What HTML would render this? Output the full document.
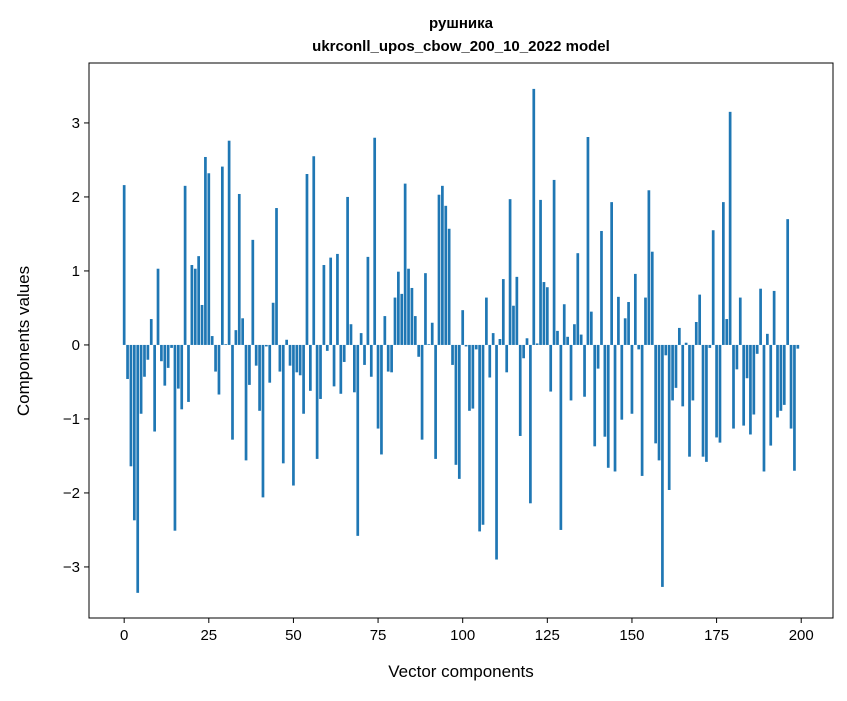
<!DOCTYPE html>
<html><head><meta charset="utf-8"><style>
body{margin:0;background:#fff;}
svg text{font-family:"Liberation Sans","DejaVu Sans",sans-serif;fill:#000;}
</style></head><body>
<svg id="chart" width="847" height="696" viewBox="0 0 847 696" xmlns="http://www.w3.org/2000/svg">
<rect width="847" height="696" fill="#fff"/>
<text x="461" y="28" text-anchor="middle" font-size="15" font-weight="bold">рушника</text>
<text x="461" y="51" text-anchor="middle" font-size="15" font-weight="bold">ukrconll_upos_cbow_200_10_2022 model</text>
<g id="bars"></g>
<g id="xticks"></g>
<g id="yticks"></g>
<rect x="89" y="63" width="744" height="555" fill="none" stroke="#000" stroke-width="1"/>
<text x="461" y="677" text-anchor="middle" font-size="17">Vector components</text>
<text transform="translate(29,341) rotate(-90)" text-anchor="middle" font-size="17">Components values</text>
</svg>
<script>
const values = [2.16,-0.46,-1.64,-2.37,-3.35,-0.93,-0.43,-0.2,0.35,-1.17,1.03,-0.22,-0.55,-0.31,-0.04,-2.51,-0.59,-0.87,2.15,-0.77,
1.08,1.03,1.2,0.54,2.54,2.32,0.12,-0.36,-0.67,2.41,0.01,2.76,-1.28,0.2,2.04,0.36,-1.56,-0.54,1.42,-0.28,
-0.89,-2.06,-0.02,-0.51,0.57,1.85,-0.36,-1.6,0.07,-0.28,-1.9,-0.37,-0.41,-0.93,2.31,-0.62,2.55,-1.54,-0.73,1.08,
-0.08,1.18,-0.56,1.23,-0.66,-0.23,2.0,0.28,-0.64,-2.58,0.16,-0.27,1.19,-0.43,2.8,-1.13,-1.48,0.39,-0.36,-0.37,
0.64,0.99,0.69,2.18,1.03,0.77,0.39,-0.16,-1.28,0.97,0.01,0.3,-1.54,2.03,2.15,1.88,1.57,-0.27,-1.62,-1.81,
0.47,-0.02,-0.89,-0.86,-0.06,-2.52,-2.43,0.64,-0.44,0.16,-2.9,0.08,0.89,-0.37,1.97,0.53,0.92,-1.23,-0.18,0.09,
-2.14,3.46,0.02,1.96,0.85,0.78,-0.63,2.23,0.19,-2.5,0.55,0.11,-0.75,0.28,1.24,0.14,-0.7,2.81,0.45,-1.37,
-0.32,1.54,-1.24,-1.66,1.93,-1.71,0.65,-1.01,0.36,0.58,-0.93,0.96,-0.06,-1.77,0.64,2.09,1.26,-1.33,-1.56,-3.27,
-0.14,-1.96,-0.75,-0.58,0.23,-0.83,0.03,-1.51,-0.75,0.31,0.68,-1.51,-1.58,-0.04,1.55,-1.25,-1.32,1.93,0.35,3.15,
-1.13,-0.33,0.64,-1.09,-0.45,-1.21,-0.94,-0.12,0.76,-1.71,0.15,-1.36,0.73,-0.98,-0.89,-0.81,1.7,-1.13,-1.7,-0.05];
const xTickValues = [0,25,50,75,100,125,150,175,200];
const yTickValues = [-3,-2,-1,0,1,2,3];
const yTickLabels = ["\u22123","\u22122","\u22121","0","1","2","3"];

const NS="http://www.w3.org/2000/svg";
const L=89,R=833,T=63,B=618;
const xMin=-10.39,xMax=209.39,yMin=-3.69,yMax=3.81;
function xs(v){return L+(v-xMin)/(xMax-xMin)*(R-L);}
function ys(v){return B-(v-yMin)/(yMax-yMin)*(B-T);}
const bars=document.getElementById('bars');
values.forEach((v,i)=>{
  const r=document.createElementNS(NS,'rect');
  const x0=xs(i-0.4),x1=xs(i+0.4);
  const y0=ys(Math.max(v,0)),y1=ys(Math.min(v,0));
  r.setAttribute('x',x0);r.setAttribute('width',x1-x0);
  r.setAttribute('y',y0);r.setAttribute('height',Math.max(y1-y0,0.3));
  r.setAttribute('fill','#1f77b4');
  
  
  bars.appendChild(r);
});
const xg=document.getElementById('xticks');
xTickValues.forEach(v=>{
  const x=xs(v);
  const l=document.createElementNS(NS,'line');
  l.setAttribute('x1',x);l.setAttribute('x2',x);l.setAttribute('y1',B);l.setAttribute('y2',B+5);
  l.setAttribute('stroke','#000');
  
  
  xg.appendChild(l);
  const t=document.createElementNS(NS,'text');
  t.setAttribute('x',x);t.setAttribute('y',B+22);t.setAttribute('text-anchor','middle');t.setAttribute('font-size','15');
  t.textContent=v;
  
  
  xg.appendChild(t);
});
const yg=document.getElementById('yticks');
yTickValues.forEach((v,i)=>{
  const y=ys(v);
  const l=document.createElementNS(NS,'line');
  l.setAttribute('x1',L-5);l.setAttribute('x2',L);l.setAttribute('y1',y);l.setAttribute('y2',y);
  l.setAttribute('stroke','#000');
  
  
  yg.appendChild(l);
  const t=document.createElementNS(NS,'text');
  t.setAttribute('x',L-9);t.setAttribute('y',y+5);t.setAttribute('text-anchor','end');t.setAttribute('font-size','15');
  t.textContent=yTickLabels[i];
  
  
  yg.appendChild(t);
});
</script>
</body></html>
